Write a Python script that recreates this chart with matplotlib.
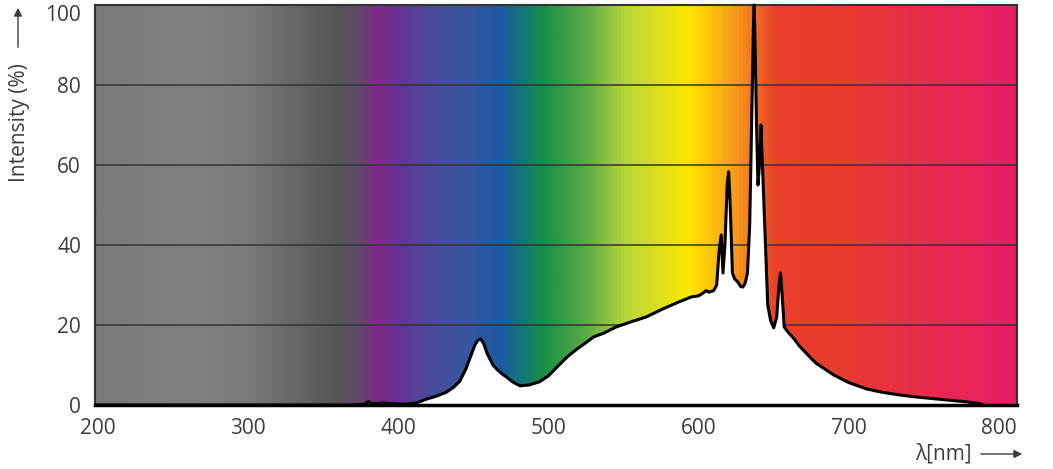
import numpy as np
import matplotlib
matplotlib.use("Agg")
import matplotlib.pyplot as plt
from matplotlib.colors import LinearSegmentedColormap

plt.rcParams['font.family'] = ['Open Sans', 'DejaVu Sans']

# spectrum (nm, % intensity)
wavelength = [200, 370, 378, 380, 382, 390, 398, 405, 412, 419, 426, 432, 437, 441, 445,
              448, 451, 453, 455, 457, 459, 461, 463, 466, 469, 472, 476, 481, 487, 494,
              500, 507, 513, 519, 525, 530, 537, 545, 555, 565, 576, 587, 595, 600, 603,
              605, 607, 610, 612, 613.5, 615, 616.2, 617.5, 619, 620, 621, 622.5, 624, 626,
              628, 629.5, 631, 632.5, 634, 635.5, 636.5, 637, 637.6, 638.5, 639.5, 640.5,
              641.5, 643, 644.5, 646, 648, 650, 652, 653.5, 654.5, 655.5, 657, 660, 663,
              667, 672, 678, 684, 690, 700, 712, 722, 734, 745, 756, 767, 778, 786, 790]
intensity = [0, 0, 0.2, 0.9, 0.3, 0.5, 0.3, 0.2, 0.5, 1.5, 2.3, 3.2, 4.5, 6, 9,
             12, 15, 16.2, 16.5, 15.2, 13, 11.5, 10, 8.8, 7.8, 7, 5.8, 4.8, 5, 5.8,
             7.3, 10, 12.2, 14, 15.6, 17, 18, 19.5, 20.8, 22, 24, 25.8, 27, 27.3, 28,
             28.6, 28.2, 28.6, 30, 38, 42.5, 33, 40, 55, 58.3, 50, 33, 31.5, 30.8,
             29.6, 29.5, 30.5, 33, 45, 75, 95, 100, 90, 71, 55, 60,
             70, 55, 40, 25, 21, 19.3, 22, 30, 33, 28, 19.5, 18, 16.8,
             14.8, 12.8, 10.5, 9, 7.5, 5.6, 4, 3.2, 2.5, 2, 1.6, 1.2, 0.8, 0.4, 0]

x_ticks = [200, 300, 400, 500, 600, 700, 800]
y_ticks = [0, 20, 40, 60, 80, 100]

# background colour stops (nm, colour)
bg_nm = [198, 260, 300, 340, 360, 372, 385, 398, 420, 445, 468, 485, 497, 525, 552,
         594, 627, 652, 700, 760, 812]
bg_col = ['#7a7a7a', '#808080', '#7a7a7a', '#606060', '#555555', '#5e4a66', '#7d2a85',
          '#6a3090', '#4a4a9a', '#3a55a0', '#1a5aa0', '#157a70', '#189045', '#5aaa45',
          '#b8d63a', '#ffe800', '#f7941d', '#e8402a', '#ea3a30', '#e82a50', '#e61e64']

x0, x1 = 198, 812
stops = [(v - x0) / (x1 - x0) for v in bg_nm]
cmap = LinearSegmentedColormap.from_list('spec', list(zip(stops, bg_col)))

fig = plt.figure(figsize=(10.53, 4.69), dpi=100)
ax = fig.add_axes([95 / 1053, 64 / 469, 922 / 1053, 400 / 469])

grad = np.linspace(0, 1, 1000).reshape(1, -1)
ax.imshow(grad, cmap=cmap, aspect='auto', extent=[x0, x1, 0, 100], zorder=0)

for y in [20, 40, 60, 80]:
    ax.axhline(y, color='#333333', lw=1.1, zorder=1)

ax.fill_between(wavelength, 0, intensity, color='white', lw=0, zorder=2)
ax.plot(wavelength, intensity, color='black', lw=2.2, zorder=3, clip_on=False,
        solid_joinstyle='round')

ax.set_xlim(x0, x1)
ax.set_ylim(0, 100)
ax.set_xticks(x_ticks)
ax.set_yticks(y_ticks)
ax.tick_params(length=0, labelsize=15, labelcolor='#3c3c3c')
ax.tick_params(axis='x', pad=9)
ax.tick_params(axis='y', pad=10)
ax.get_yticklabels()[-1].set_verticalalignment('top')
for s in ax.spines.values():
    s.set_color('#333333')
    s.set_linewidth(1.5)
ax.spines['bottom'].set_linewidth(2.5)
ax.spines['bottom'].set_color('black')

# axis titles with arrows
fig.text(20 / 1053, 1 - 123 / 469, 'Intensity (%)', rotation=90, ha='center', va='center',
         fontsize=15, color='#3c3c3c')
fig.add_artist(plt.Annotation('', xy=(18 / 1053, 1 - 5 / 469), xytext=(18 / 1053, 1 - 50 / 469),
                              xycoords='figure fraction', textcoords='figure fraction',
                              arrowprops=dict(arrowstyle='-|>', color='#3c3c3c', lw=1,
                                              mutation_scale=12)))
fig.text(943 / 1053, 1 - 454 / 469, 'λ[nm]', ha='center', va='center', fontsize=15,
         color='#3c3c3c')
fig.add_artist(plt.Annotation('', xy=(1025 / 1053, 1 - 454 / 469), xytext=(978 / 1053, 1 - 454 / 469),
                              xycoords='figure fraction', textcoords='figure fraction',
                              arrowprops=dict(arrowstyle='-|>', color='#3c3c3c', lw=1,
                                              mutation_scale=12)))

fig.savefig('out.png', dpi=100)
